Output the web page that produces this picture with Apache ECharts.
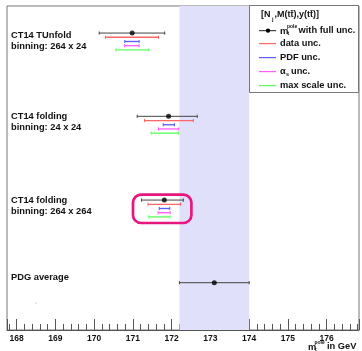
<!DOCTYPE html>
<html>
<head>
<meta charset="utf-8">
<script src="https://cdn.jsdelivr.net/npm/echarts@6/dist/echarts.min.js"></script>
<style>
  html, body { margin: 0; padding: 0; background: #fff; }
  #main { width: 362px; height: 351px; }
</style>
</head>
<body>
<div id="main"></div>
<script>
// m_t^pole extractions (GeV), one entry per row, top to bottom
const rowNames = [
  ["CT14 TUnfold", "binning: 264 x 24"],
  ["CT14 folding", "binning: 24 x 24"],
  ["CT14 folding", "binning: 264 x 264"],
  ["PDG average"]
];
const central = [170.98, 171.92, 171.81, 173.1];
const fullUnc = [[170.13, 171.82], [171.11, 172.66], [171.22, 172.30], [172.2, 174.0]];
const dataUnc = [[170.29, 171.66], [171.30, 172.56], [171.39, 172.23]];
const pdfUnc = [[170.79, 171.16], [171.78, 172.07], [171.68, 171.95]];
const alphasUnc = [[170.78, 171.16], [171.66, 172.18], [171.65, 171.96]];
const scaleUnc = [[170.56, 171.41], [171.47, 172.18], [171.41, 171.96]];
const pdgBand = [172.2, 174.0];

// vertical layout (y axis runs 0..100 top to bottom)
const rowY = [8.35, 34.05, 59.9, 85.4];
const subStep = 1.3;

const FONT = '"Liberation Sans", Arial, sans-serif';
const chart = echarts.init(document.getElementById("main"));

function errorBar(color, width) {
  return function (params, api) {
    const y = api.value(2);
    const a = api.coord([api.value(0), y]);
    const b = api.coord([api.value(1), y]);
    const h = 1.6;
    return {
      type: "group",
      children: [
        { type: "line", shape: { x1: a[0], y1: a[1], x2: b[0], y2: b[1] }, style: { stroke: color, lineWidth: width } },
        { type: "line", shape: { x1: a[0], y1: a[1] - h, x2: a[0], y2: a[1] + h }, style: { stroke: color, lineWidth: 1 } },
        { type: "line", shape: { x1: b[0], y1: b[1] - h, x2: b[0], y2: b[1] + h }, style: { stroke: color, lineWidth: 1 } }
      ]
    };
  };
}

function barSeries(name, list, level, color, width) {
  return {
    name: name,
    type: "custom",
    z: 3,
    renderItem: errorBar(color, width),
    encode: { x: [0, 1], y: 2 },
    data: list.map((r, i) => [r[0], r[1], rowY[i] + level * subStep])
  };
}

function txt(text, x, y, size, opts) {
  opts = opts || {};
  return {
    type: "text",
    z: 20,
    style: {
      text: text, x: x, y: y,
      font: (opts.weight || "bold") + " " + size + "px " + FONT,
      fill: opts.fill || "#111",
      align: opts.align || "left", textAlign: opts.align || "left",
      verticalAlign: "middle", textVerticalAlign: "middle"
    }
  };
}

const legendRows = [30, 43, 57, 71, 85];
const legendColors = ["#444", "#ff6666", "#5a5aff", "#ff5aff", "#5aff5a"];

const graphics = [];
// row labels
const labelY = [[35, 46.5], [116, 127], [200, 211], [277.5]];
rowNames.forEach((lines, i) => {
  lines.forEach((t, j) => graphics.push(txt(t, 11, labelY[i][j], 9.3)));
});
// highlight box
graphics.push({
  type: "rect", z: 15,
  shape: { x: 133, y: 194.6, width: 58.4, height: 28.4, r: 8 },
  style: { fill: "none", stroke: "#e8177f", lineWidth: 2.7 }
});
// stray dot
graphics.push({ type: "rect", z: 15, shape: { x: 35.5, y: 302.5, width: 1, height: 1 }, style: { fill: "#aaa" } });
// legend box
graphics.push({
  type: "rect", z: 18,
  shape: { x: 249.5, y: 5.5, width: 109, height: 87 },
  style: { fill: "#fff", stroke: "#777", lineWidth: 1 }
});
graphics.push(txt("[N", 261, 15, 9));
graphics.push(txt("j", 272, 19, 5.5));
graphics.push(txt(",M(tt\u0304),y(tt\u0304)]", 274.5, 15, 9));
legendRows.forEach((y, i) => {
  graphics.push({
    type: "rect", z: 20,
    shape: { x: 259, y: y, width: 17, height: 1.2 },
    style: { fill: legendColors[i] }
  });
});
graphics.push({ type: "circle", z: 21, shape: { cx: 268, cy: 30.6, r: 2.2 }, style: { fill: "#000" } });
graphics.push(txt("m", 280, 31, 9.5));
graphics.push(txt("pole", 287, 27, 5));
graphics.push(txt("t", 287.5, 34, 5));
graphics.push(txt("with full unc.", 298.5, 30, 9.3));
graphics.push(txt("data unc.", 280, 43.3, 9.3));
graphics.push(txt("PDF unc.", 280, 57.3, 9.3));
graphics.push(txt("\u03b1", 280, 71.7, 9.3));
graphics.push(txt("s", 286, 74.5, 5.5));
graphics.push(txt("unc.", 291, 71.7, 9.3));
graphics.push(txt("max scale unc.", 280, 85, 9.3));
// axis title
graphics.push(txt("m", 308, 347, 9.3));
graphics.push(txt("pole", 314.5, 342.5, 5));
graphics.push(txt("t", 315, 349.5, 5));
graphics.push(txt("in GeV", 327, 346.5, 9.3));

chart.setOption({
  animation: false,
  grid: { left: 7, right: 3, top: 6, bottom: 21, show: true, borderColor: "#777", borderWidth: 1, backgroundColor: "#fff" },
  xAxis: {
    type: "value",
    min: 167.75,
    max: 176.834,
    splitNumber: 9,
    axisLine: { show: true, onZero: false, lineStyle: { color: "#555", width: 1 } },
    axisTick: { show: true, inside: true, length: 11, lineStyle: { color: "#555" } },
    minorTick: { show: true, splitNumber: 5, length: 6, lineStyle: { color: "#555" } },
    splitLine: { show: false },
    axisLabel: {
      showMinLabel: false, showMaxLabel: false, margin: 4,
      color: "#111", fontSize: 8.5, fontWeight: "bold", fontFamily: FONT
    }
  },
  yAxis: {
    type: "value", inverse: true, min: 0, max: 100,
    axisLine: { show: false }, axisTick: { show: false },
    axisLabel: { show: false }, splitLine: { show: false }
  },
  series: [
    {
      name: "PDG band",
      type: "line",
      z: 1,
      data: [],
      markArea: {
        silent: true,
        itemStyle: { color: "#e0e0fa" },
        data: [[{ xAxis: pdgBand[0] }, { xAxis: pdgBand[1] }]]
      }
    },
    barSeries("full", fullUnc, 0, "#444", 1),
    barSeries("data", dataUnc, 1, "#ff6666", 1.3),
    barSeries("pdf", pdfUnc, 2, "#5a5aff", 1.3),
    barSeries("alphas", alphasUnc, 3, "#ff5aff", 1.3),
    barSeries("scale", scaleUnc, 4, "#5aff5a", 1.3),
    {
      name: "central",
      type: "scatter",
      z: 4,
      symbol: "circle",
      symbolSize: 5,
      itemStyle: { color: "#000" },
      data: central.map((v, i) => [v, rowY[i]])
    }
  ],
  graphic: graphics
});
</script>
</body>
</html>
